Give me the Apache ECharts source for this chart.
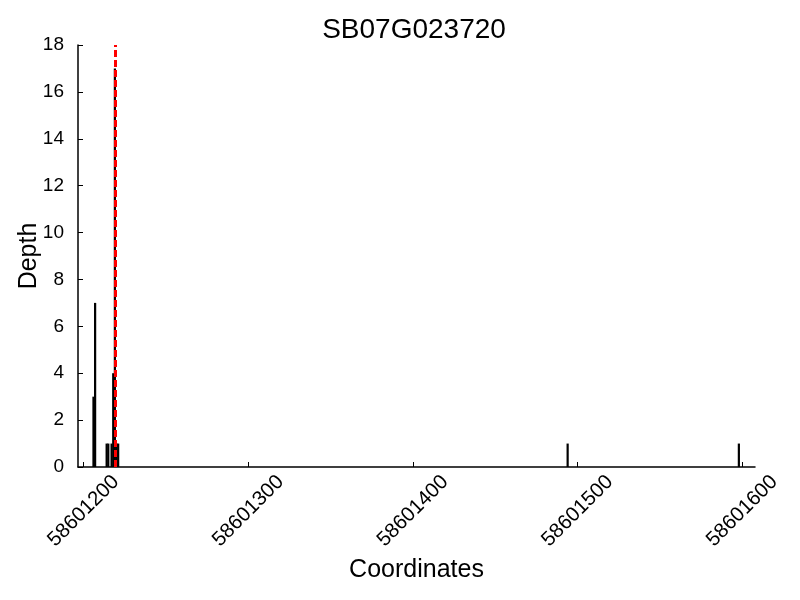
<!DOCTYPE html>
<html><head><meta charset="utf-8">
<script src="https://cdn.jsdelivr.net/npm/echarts@6/dist/echarts.min.js"></script>
<style>html,body{margin:0;padding:0;background:#fff}#c{width:800px;height:600px}</style>
</head><body><div id="c"></div>
<script>
const title = "SB07G023720";
const positions = [58601206, 58601207, 58601214, 58601215, 58601217, 58601218, 58601219, 58601220, 58601221, 58601494, 58601598];
const depths    = [3, 7, 1, 1, 1, 4, 17, 1, 1, 1, 1];
const markerPos = 58601219;
const xTicks = [58601200, 58601300, 58601400, 58601500, 58601600];
const yTicks = [0, 2, 4, 6, 8, 10, 12, 14, 16, 18];

const font = "'Liberation Sans', Arial, sans-serif";
const chart = echarts.init(document.getElementById('c'));
chart.setOption({
  animation: false,
  title: {text: title, left: 409, textAlign: 'center', top: 11,
    textStyle: {fontFamily: font, fontSize: 28, fontWeight: 'normal', color: '#000'}},
  grid: {left: 78, right: 45, top: 45, bottom: 133, outerBoundsMode: 'none', containLabel: false},
  xAxis: {
    type: 'value', min: 58601196.6, max: 58601607.8,
    interval: 100,
    name: 'Coordinates', nameLocation: 'middle', nameGap: 90,
    nameTextStyle: {fontFamily: font, fontSize: 25, color: '#000'},
    axisLine: {show: true, lineStyle: {color: '#000', width: 1.5}},
    axisTick: {show: true, inside: true, length: 5, lineStyle: {color: '#000'},
      customValues: xTicks},
    axisLabel: {fontFamily: font, fontSize: 20.5, color: '#000', rotate: 45,
      align: 'center', verticalAlign: 'middle', margin: 44,
      customValues: xTicks, formatter: v => String(v)},
    splitLine: {show: false}
  },
  yAxis: {
    type: 'value', min: 0, max: 18, interval: 2,
    name: 'Depth', nameLocation: 'middle', nameGap: 36, nameMoveOverlap: false,
    nameTextStyle: {fontFamily: font, fontSize: 25, color: '#000'},
    axisLine: {show: true, lineStyle: {color: '#000', width: 1.5}},
    axisTick: {show: true, inside: true, length: 5, lineStyle: {color: '#000'}},
    axisLabel: {fontFamily: font, fontSize: 19, color: '#000', margin: 14,
      customValues: yTicks},
    splitLine: {show: false}
  },
  series: [{
    type: 'bar',
    data: positions.map((p, i) => [p, depths[i]]),
    barWidth: 2.2,
    itemStyle: {color: '#000'},
    markLine: {
      silent: true, symbol: ['none', 'none'], label: {show: false},
      lineStyle: {color: '#ff0000', width: 3, type: [7, 3]},
      data: [{xAxis: markerPos}]
    }
  }]
});
</script></body></html>
